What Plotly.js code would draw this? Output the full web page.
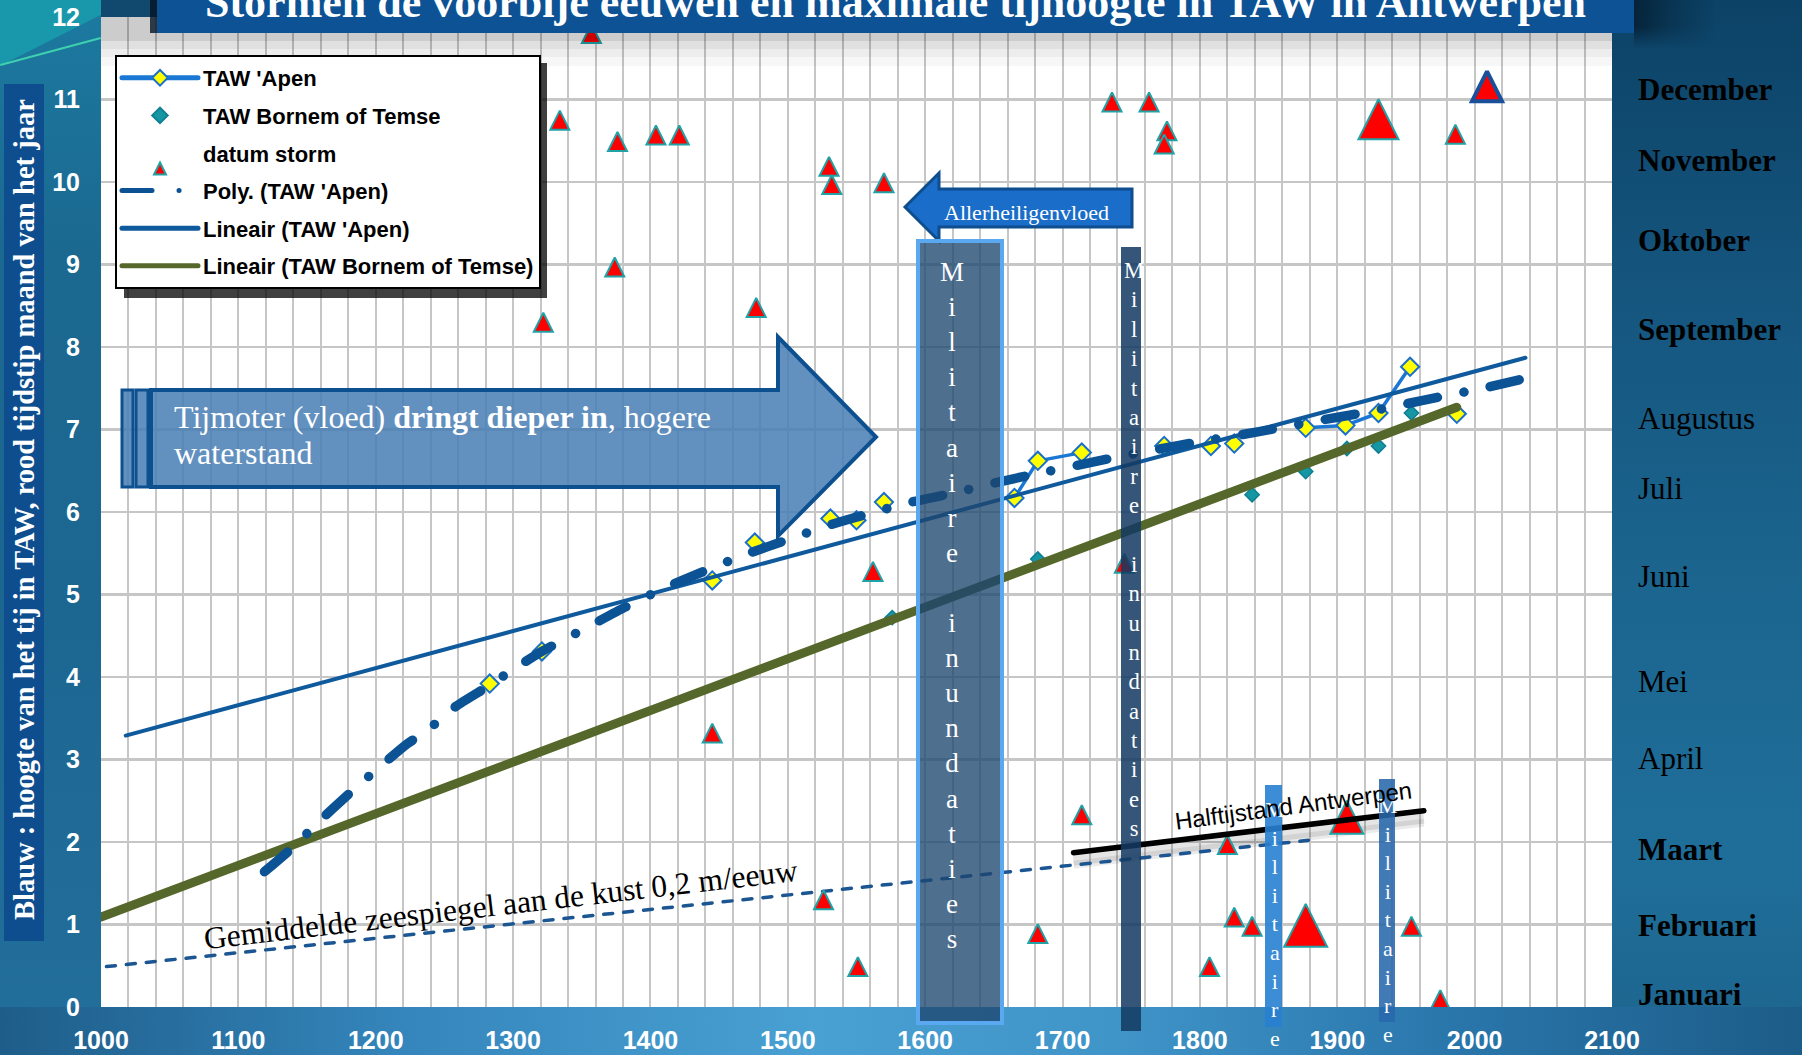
<!DOCTYPE html>
<html><head><meta charset="utf-8">
<script src="https://cdn.plot.ly/plotly-3.0.1.min.js"></script>
<style>
html,body{margin:0;padding:0;width:1802px;height:1055px;overflow:hidden;background:#1b5f8b;}
#wrap{position:relative;width:1802px;height:1055px;}
.bg{position:absolute;}
#chart{position:absolute;left:0;top:0;width:1802px;height:1055px;}
path.js-line{stroke-linecap:round;stroke-linejoin:round;}
</style></head><body>
<div id="wrap">
  <div class="bg" style="left:0;top:0;width:101px;height:1055px;background:linear-gradient(to bottom,#1c7aa0 0%,#1b6890 25%,#1c6792 60%,#236f9b 100%)"></div>
  <div class="bg" style="left:0;top:0;width:130px;height:66px;background:#1a98ab;clip-path:polygon(0 0,100% 0,0 100%)"></div>
  <div class="bg" style="left:0;top:64px;width:104px;height:2px;background:#3fd0b0;transform-origin:0 0;transform:rotate(-15deg)"></div>
  <div class="bg" style="left:101px;top:0;width:1511px;height:17px;background:#11486e"></div>
  <div class="bg" style="left:1612px;top:0;width:190px;height:1007px;background:linear-gradient(to bottom,#0c4266 0%,#15567f 30%,#1b6690 60%,#1f6e9a 85%,#1d6791 100%)"></div>
  <div class="bg" style="left:1634px;top:0;width:80px;height:48px;background:linear-gradient(to right,rgba(0,10,20,0.55) 0%,rgba(0,10,20,0.25) 45%,rgba(0,10,20,0) 100%);-webkit-mask-image:linear-gradient(to bottom,#000 0%,#000 55%,transparent 100%);mask-image:linear-gradient(to bottom,#000 0%,#000 55%,transparent 100%)"></div>
  <div class="bg" style="left:0;top:1007px;width:1802px;height:48px;background:linear-gradient(to right,#1e5d89 0%,#3485bb 22%,#49a0d2 45%,#3f94c8 62%,#2a77ac 80%,#1c5c88 100%)"></div>
  <div id="chart"></div>
</div>
<script>
// ---------------- data ----------------
// TAW 'Apen (null = break in the measured series)
const apenYear = [1283, null, 1321, null, 1445, null, 1476, null, 1531, null, 1550, null, 1570, null, 1665, 1682, 1714, null, 1774, null, 1808, null, 1825, null, 1877, 1906, 1930, 1953, null, 1987];
const apenTAW  = [3.92, null, 4.31, null, 5.17, null, 5.63, null, 5.92, null, 5.90, null, 6.12, null, 6.17, 6.62, 6.72, null, 6.80, null, 6.80, null, 6.83, null, 7.02, 7.05, 7.20, 7.76, null, 7.19];

// TAW Bornem of Temse
const bornemYear = [1576, 1682, 1838, 1877, 1907, 1930, 1954];
const bornemTAW  = [4.72, 5.43, 6.21, 6.49, 6.77, 6.80, 7.20];

// datum storm (year, month position on the 0-12 scale)
const stormYear  = [1357, 1334, 1376, 1404, 1421, 1374, 1322, 1477, 1530, 1532, 1570, 1445, 1562, 1526, 1551, 1682, 1714, 1736, 1763, 1776, 1774, 1745, 1930, 1986, 2009, 1807, 1820, 1825, 1838, 1877, 1907, 1954, 1975];
const stormMonth = [11.8, 10.75, 10.49, 10.57, 10.57, 8.97, 8.30, 8.48, 10.19, 9.97, 9.99, 3.32, 5.28, 1.30, 0.49, 0.89, 2.33, 10.97, 10.97, 10.62, 10.46, 5.38, 10.76, 10.58, 11.16, 0.49, 1.97, 1.09, 0.98, 0.99, 2.30, 0.98, 0.09];

// Poly. (TAW 'Apen) trendline
const polyYear = [1119, 1140, 1160, 1179, 1198, 1223, 1238, 1258, 1283, 1298, 1321, 1348, 1382, 1408, 1440, 1470, 1501, 1528, 1561, 1590, 1621, 1650, 1680, 1709, 1738, 1769, 1799, 1828, 1858, 1887, 1918, 1947, 1976, 2006, 2037];
const polyTAW  = [1.64, 1.94, 2.27, 2.56, 2.84, 3.19, 3.36, 3.64, 3.90, 4.07, 4.31, 4.55, 4.85, 5.06, 5.29, 5.49, 5.67, 5.83, 5.99, 6.12, 6.23, 6.35, 6.46, 6.56, 6.66, 6.76, 6.85, 6.93, 7.02, 7.11, 7.20, 7.30, 7.40, 7.50, 7.62];

// Lineair trendlines (end points)
const linApenYear   = [1018, 2037];
const linApenTAW    = [3.29, 7.87];
const linBornemYear = [1000, 1987];
const linBornemTAW  = [1.09, 7.27];

// Gemiddelde zeespiegel & halftijstand
const seaYear  = [1004, 1879];
const seaLevel = [0.49, 2.02];
const halfYear  = [1708, 1963];
const halfLevel = [1.87, 2.38];

// month labels on the right
const monthLabels = ['December','November','Oktober','September','Augustus','Juli','Juni','Mei','April','Maart','Februari','Januari'];
const monthPos    = [11.12, 10.26, 9.29, 8.21, 7.13, 6.28, 5.22, 3.95, 3.01, 1.91, 0.99, 0.15];
const monthBold   = [true, true, true, true, false, false, false, false, false, true, true, true];

const xTickVals = [1000,1100,1200,1300,1400,1500,1600,1700,1800,1900,2000,2100];

// ---------------- styling ----------------
const L = 101, R = 190, T = 17, B = 48, FW = 1802, FH = 1055;
const PW = FW - L - R, PH = FH - T - B;
const fx = px => (px - L) / PW;
const fy = py => (T + PH - py) / PH;
const pxToUnits = px => px * 12 / PH;

const SERIF = 'Liberation Serif, DejaVu Serif, serif';
const SANS = 'Liberation Sans, Arial, sans-serif';

// emphasised storms (index -> size), rest default
const stormSizes = stormYear.map(() => 19);
stormSizes[22] = 40; stormSizes[29] = 43; stormSizes[30] = 33; stormSizes[24] = 30;
const stormLineColor = stormYear.map((_, i) => i === 24 ? '#1a4f9a' : '#20a2a6');
const stormLineWidth = stormYear.map((_, i) => i === 24 ? 4 : 2);

const traces = [
  {x: seaYear, y: seaLevel, mode: 'lines', showlegend: false, hoverinfo: 'skip',
   line: {color: '#1b5592', width: 3.5, dash: '9px,11px'}},
  {name: "TAW 'Apen", legendgroup: 'g1', legendrank: 1, x: apenYear, y: apenTAW, mode: 'lines+markers',
   connectgaps: false,
   line: {color: '#1a78d4', width: 3.5},
   marker: {symbol: 'diamond', size: 14, color: '#ffff00', opacity: 1, line: {color: '#1a6fcc', width: 2}}},
  {name: 'TAW Bornem of Temse', legendgroup: 'g2', legendrank: 2, x: bornemYear, y: bornemTAW, mode: 'markers',
   marker: {symbol: 'diamond', size: 11, color: '#1597a3', opacity: 1, line: {color: '#0f7e94', width: 1.5}}},
  {name: 'datum storm', legendgroup: 'g3', legendrank: 3, x: stormYear, y: stormMonth, mode: 'markers',
   marker: {symbol: 'arrow-down', angle: 180, size: stormSizes, standoff: stormSizes.map(s => s / 2),
            color: '#ff0000', opacity: 1, line: {color: stormLineColor, width: stormLineWidth}}},
  {name: 'Lineair (TAW Bornem of Temse)', legendgroup: 'g6', legendrank: 6, x: linBornemYear, y: linBornemTAW, mode: 'lines',
   line: {color: '#55672a', width: 9}},
  {name: "Lineair (TAW 'Apen)", legendgroup: 'g5', legendrank: 5, x: linApenYear, y: linApenTAW, mode: 'lines',
   line: {color: '#0f5a9c', width: 4}},
  {name: "Poly. (TAW 'Apen)", legendgroup: 'g4', legendrank: 4, x: polyYear, y: polyTAW, mode: 'lines',
   line: {color: '#0b5394', width: 9.5, dash: '30px,27px,0.1px,27px', shape: 'spline', smoothing: 0.6}},
  {x: halfYear, y: halfLevel, mode: 'lines', showlegend: false, hoverinfo: 'skip',
   line: {color: '#000000', width: 5.5}}
];

function rectPx(x0, y0, x1, y1, fill, line) {
  return {type: 'rect', xref: 'paper', yref: 'paper', layer: 'above',
          x0: fx(x0), x1: fx(x1), y0: fy(y1), y1: fy(y0),
          fillcolor: fill, line: line || {width: 0}};
}
function pathPx(pts, fill, line) {
  const d = pts.map((p, i) => (i ? 'L' : 'M') + fx(p[0]).toFixed(5) + ',' + fy(p[1]).toFixed(5)).join('') + 'Z';
  return {type: 'path', xref: 'paper', yref: 'paper', layer: 'above', path: d, fillcolor: fill, line: line || {width: 0}};
}
function halfShadow(offPx, width, alpha) {
  return {type: 'line', xref: 'x', yref: 'y', layer: 'between',
          x0: halfYear[0], x1: halfYear[1],
          y0: halfLevel[0] - pxToUnits(offPx), y1: halfLevel[1] - pxToUnits(offPx),
          line: {color: 'rgba(0,0,0,' + alpha + ')', width}};
}

const shapes = [
  halfShadow(8, 10, 0.10),
  halfShadow(12, 8, 0.08),
  // shadow of the title over plot top
  rectPx(101, 17, 1612, 41, 'rgba(0,0,0,0.20)'),
  rectPx(101, 41, 1612, 49, 'rgba(0,0,0,0.12)'),
  rectPx(101, 49, 1612, 57, 'rgba(0,0,0,0.07)'),
  rectPx(101, 57, 1612, 66, 'rgba(0,0,0,0.03)'),
  // title box
  rectPx(150, 0, 157, 33, 'rgba(5,20,35,0.8)'),
  rectPx(157, -20, 1634, 33, '#0d5294'),
  // y-title box
  rectPx(4, 84, 44, 941, '#0e4e8e'),
  // Tijmoter arrow
  pathPx([[151, 390], [778, 390], [778, 337], [876, 437], [778, 536], [778, 487], [151, 487]],
         'rgba(70,124,180,0.85)', {color: '#0d5090', width: 4}),
  rectPx(122, 390, 133, 487, 'rgba(70,124,180,0.85)', {color: '#0d5090', width: 3}),
  rectPx(136, 390, 148, 487, 'rgba(70,124,180,0.85)', {color: '#0d5090', width: 3}),
  // Allerheiligenvloed arrow
  pathPx([[905, 207], [939, 173], [939, 189], [1132, 189], [1132, 227], [939, 227], [939, 241]],
         '#1a6dc8', {color: '#0e4d8e', width: 3}),
  // Militaire inundaties bars
  rectPx(918, 241, 1002, 1023, 'rgba(30,70,112,0.78)', {color: '#5aa8f0', width: 4}),
  rectPx(1121, 247, 1141, 1031, 'rgba(20,58,98,0.86)'),
  rectPx(1265, 785, 1282, 1027, 'rgba(40,128,210,0.9)'),
  rectPx(1379, 779, 1395, 1022, 'rgba(40,104,172,0.88)'),
  // legend shadow
  rectPx(124, 63, 547, 298, 'rgba(0,0,0,0.75)')
];

function ann(text, px, py, font, extra) {
  return Object.assign({text, xref: 'paper', yref: 'paper', x: fx(px), y: fy(py), showarrow: false,
                        xanchor: 'center', yanchor: 'middle', font}, extra || {});
}
const white = (size, fam, bold) => ({family: fam, size, color: '#ffffff', weight: bold ? 'bold' : 'normal'});
const stack = word => word.split('').map(c => c === ' ' ? '\u00a0' : c).join('<br>');

const annotations = [
  ann('Stormen de voorbije eeuwen en maximale tijhoogte in TAW in Antwerpen', 895, 2, white(44, SERIF, true)),
  ann('Blauw : hoogte van het tij in TAW, rood tijdstip maand van het jaar', 24, 510, white(28.5, SERIF, true), {textangle: -90}),
  ann("Tijmoter (vloed) <b>dringt dieper in</b>, hogere", 172, 417, white(32, SERIF, false), {xanchor: 'left', align: 'left'}),
  ann('waterstand', 172, 453, white(32, SERIF, false), {xanchor: 'left', align: 'left'}),
  ann('Allerheiligenvloed', 1026, 212, white(22, SERIF, false)),
  ann(stack('Militaire inundaties'), 952, 605, white(27, SERIF, false)),
  ann(stack('Militaire inundaties'), 1134, 549, white(22.6, SERIF, false)),
  ann(stack('Militaire'), 1275, 924, white(22, SERIF, false)),
  ann(stack('Militaire'), 1388, 920, white(22, SERIF, false)),
  {text: 'Gemiddelde zeespiegel aan de kust 0,2 m/eeuw', xref: 'x', yref: 'y', x: 1291, y: 1.24,
   showarrow: false, textangle: -6.6, font: {family: SERIF, size: 31.5, color: '#000000'}},
  {text: 'Halftijstand Antwerpen', xref: 'x', yref: 'y', x: 1868, y: 2.44,
   showarrow: false, textangle: -7.6, font: {family: SANS, size: 24, color: '#000000'}}
];
monthLabels.forEach((m, i) => {
  annotations.push({text: m, xref: 'paper', yref: 'y', x: fx(1636), y: monthPos[i], xanchor: 'left', yanchor: 'middle',
    showarrow: false, font: {family: SERIF, size: 31, color: '#000000', weight: monthBold[i] ? 'bold' : 'normal'}});
});

const layout = {
  width: FW, height: FH,
  margin: {l: L, r: R, t: T, b: B, pad: 0},
  paper_bgcolor: 'rgba(0,0,0,0)', plot_bgcolor: '#ffffff',
  showlegend: true,
  legend: {x: fx(115), y: fy(55), xanchor: 'left', yanchor: 'top', bgcolor: '#ffffff',
           bordercolor: '#000000', borderwidth: 2, itemwidth: 76, tracegroupgap: 6,
           traceorder: 'grouped', itemsizing: 'constant',
           font: {family: SANS, size: 22, color: '#000000', weight: 'bold'}},
  xaxis: {range: [1000, 2100], tickvals: xTickVals, ticktext: xTickVals.map(String), showgrid: true,
          gridcolor: '#c6c6c6', gridwidth: 2, zeroline: false, showline: false, ticks: '',
          ticklabelstandoff: 16,
          minor: {dtick: 20, showgrid: true, gridcolor: '#c6c6c6', gridwidth: 2},
          tickfont: {family: SANS, size: 25, color: '#ffffff', weight: 'bold'}},
  yaxis: {range: [0, 12], dtick: 1, showgrid: true, gridcolor: '#c6c6c6', gridwidth: 2.5, zeroline: false,
          showline: false, ticks: '', ticklabelstandoff: 20,
          tickfont: {family: SANS, size: 25, color: '#ffffff', weight: 'bold'}},
  shapes, annotations,
  hovermode: false
};

Plotly.newPlot('chart', traces, layout, {staticPlot: true, displayModeBar: false});
</script>
</body></html>
